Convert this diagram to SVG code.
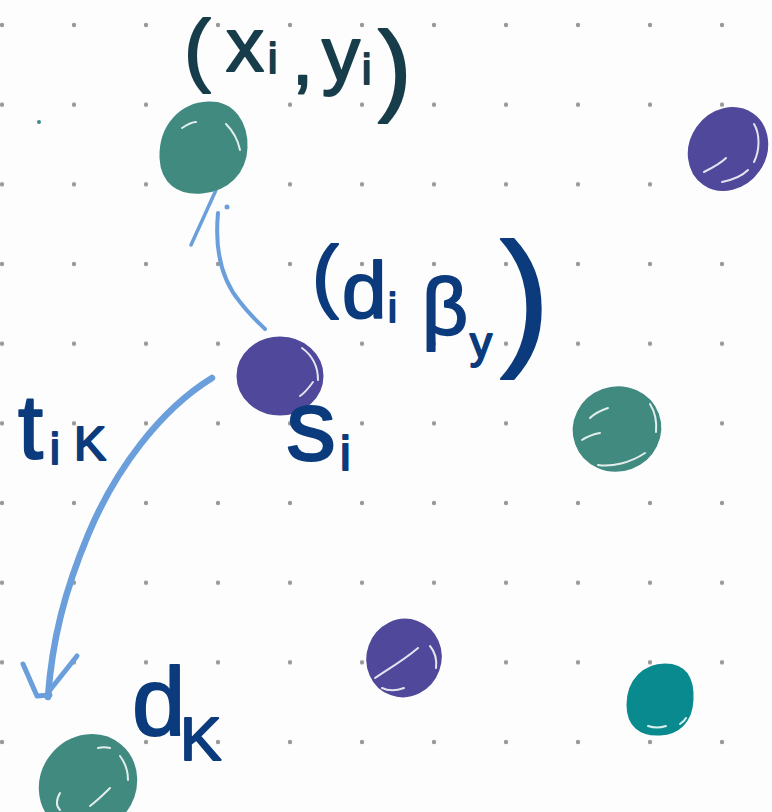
<svg xmlns="http://www.w3.org/2000/svg" width="772" height="812" viewBox="0 0 772 812">
<style>
.teal{fill:#418a80;stroke:#418a80;stroke-width:3;stroke-linejoin:round}
.cyan{fill:#088a8e;stroke:#088a8e;stroke-width:3;stroke-linejoin:round}
.purp{fill:#50489a;stroke:#50489a;stroke-width:3;stroke-linejoin:round}
.hl{fill:none;stroke:#ffffff;stroke-width:2;stroke-linecap:round;opacity:0.85}
.arr{fill:none;stroke:#6a9fdb;stroke-linecap:round;stroke-linejoin:round}
.lab{font-family:"Liberation Sans",Arial,sans-serif;stroke-linejoin:round}
.dk{fill:#173d4b;stroke:#173d4b;stroke-width:2}
.nv{fill:#0b3b7c;stroke:#0b3b7c;stroke-width:2}
</style>
<defs>
<pattern id="grid" x="-34" y="-14.83" width="72" height="79.67" patternUnits="userSpaceOnUse">
<circle cx="36" cy="39.83" r="2.2" fill="#999999"/>
</pattern>
</defs>
<rect width="772" height="812" fill="#fdfdfd"/>
<rect width="772" height="812" fill="url(#grid)"/>
<circle cx="39" cy="122" r="2" fill="#418a80"/>

<g id="connectors">
<path class="arr" stroke-width="4" d="M218,213 C215,245 220,278 240,302 C250,315 258,322 265,329"/>
<circle cx="227" cy="207" r="2.5" fill="#6a9fdb"/>
<path class="arr" stroke-width="3.5" d="M216,190 L191,245"/>
<path class="arr" stroke-width="6.5" d="M212,378 C160,410 115,470 88,535 C65,590 52,640 48,697"/>
<path class="arr" stroke-width="5" d="M23,664 L37,696 L50,695 M77,656 L50,690"/>
</g>

<g id="node-xi">
<path class="teal" d="M161,158 C160,125 182,104 208,103 C234,102 247,124 246,148 C245,172 228,190 202,192 C178,194 162,182 161,158 Z"/>
<path class="hl" d="M182,128 C188,124 192,122 196,122 M226,124 C234,132 238,140 240,150"/>
</g>

<g id="node-tr">
<ellipse class="purp" cx="728" cy="149" rx="37" ry="42" transform="rotate(35 728 149)"/>
<path class="hl" d="M754,124 C760,134 760,150 754,162 M704,172 C712,168 720,164 726,158 M722,182 C732,180 742,176 748,170"/>
</g>

<g id="node-si">
<ellipse class="purp" cx="280" cy="376" rx="42" ry="38"/>
<path class="hl" d="M302,348 C313,356 318,368 318,380 M300,396 C306,392 310,386 313,382"/>
</g>

<g id="node-mr">
<ellipse class="teal" cx="617" cy="429" rx="43" ry="41" transform="rotate(-20 617 429)"/>
<path class="hl" d="M590,418 C596,412 602,410 608,408 M582,440 C588,436 594,434 600,433 M598,465 C612,467 630,463 645,453 M650,404 C655,412 657,422 656,432"/>
</g>

<g id="node-bm">
<ellipse class="purp" cx="404" cy="658" rx="36" ry="38" transform="rotate(20 404 658)"/>
<path class="hl" d="M375,678 C390,668 404,660 418,648 M430,646 C435,652 437,660 436,668 M382,688 C388,691 396,691 404,688"/>
</g>

<g id="node-br">
<path class="cyan" d="M628,705 C628,680 645,665 665,665 C685,665 693,678 692,700 C691,722 678,733 660,734 C640,735 628,725 628,705 Z"/>
<path class="hl" d="M648,726 C654,728 660,728 666,726 M680,724 C683,722 685,720 686,718"/>
</g>

<g id="node-dk">
<ellipse class="teal" cx="88" cy="784" rx="46" ry="50" transform="rotate(40 88 784)"/>
<path class="hl" d="M98,748 C102,747 106,747 110,748 M120,756 C126,764 128,772 128,780 M60,793 C56,800 56,806 60,810 M90,806 C98,800 104,794 110,788"/>
</g>

<g id="labels">
<text class="lab dk" font-size="80" x="184" y="76">(</text>
<text class="lab dk" font-size="76"><tspan x="226" y="71">x</tspan><tspan x="268" y="73" font-size="42">i</tspan><tspan x="292" y="84">,</tspan><tspan x="322" y="80">y</tspan><tspan x="362" y="84" font-size="42">i</tspan></text>
<text class="lab dk" font-size="100" x="378" y="102">)</text>
<text class="lab nv" font-size="80"><tspan x="312" y="302">(</tspan><tspan x="342" y="318">d</tspan><tspan x="388" y="322" font-size="40">i</tspan><tspan x="422" y="334">β</tspan><tspan x="470" y="358" font-size="44">y</tspan></text>
<text class="lab nv" font-size="150" x="500" y="348">)</text>
<text class="lab nv" font-size="100"><tspan x="286" y="460">s</tspan><tspan x="340" y="470" font-size="48">i</tspan></text>
<text class="lab nv" font-size="90"><tspan x="18" y="458">t</tspan><tspan x="50" y="464" font-size="44">i</tspan><tspan x="74" y="460" font-size="48">K</tspan></text>
<text class="lab nv" font-size="96"><tspan x="132" y="735">d</tspan><tspan x="180" y="760" font-size="62">K</tspan></text>
</g>
</svg>
